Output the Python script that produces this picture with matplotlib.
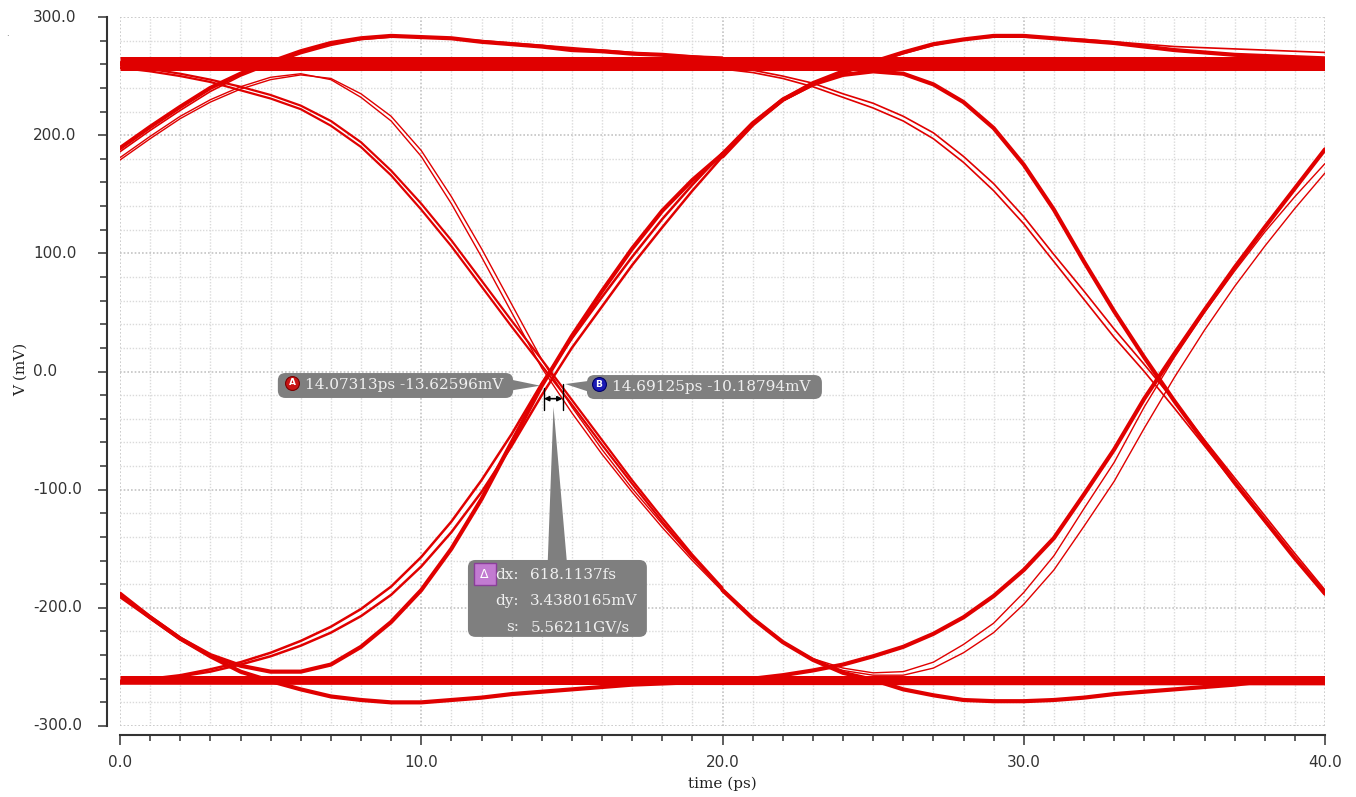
#Diagrama de ojo con marcadores A, B y delta
import numpy as np
import matplotlib
matplotlib.use('Agg')
import matplotlib.pyplot as plt
import matplotlib.transforms as mtransforms
from matplotlib.patches import FancyBboxPatch, Polygon
from matplotlib.ticker import MultipleLocator, FormatStrFormatter

plt.rcParams['axes.unicode_minus'] = False
plt.rcParams['lines.solid_capstyle'] = 'round'

# tiempos de muestreo (ps)
t_a = np.arange(0, 21)
t_b = np.arange(20, 41)

# niveles planos (mV) al inicio y al final de la ventana
t_flat = [0, 40]
hi_flat = [[264.5, 264.5], [260.5, 260], [256.5, 256.5]]
lo_flat = [[-259, -259], [-263, -263.5]]

# primera mitad 0..20 ps (mV)
r_hold_a = [189, 207, 224, 240, 252, 262, 271, 278, 282, 284, 283, 282, 279, 277, 275, 272, 271, 269, 268, 266, 264]
r_hold_a2 = [186, 204, 221, 237, 250, 260, 269, 276, 281, 283, 283, 282, 280, 278, 276, 274, 272, 270, 268, 267, 266]
r_fall_a = [181, 199, 216, 230, 241, 249, 252, 247, 232, 212, 182, 142, 97, 50, 3, -35, -70, -102, -132, -160, -186]
r_fall_a2 = [179, 197, 214, 228, 239, 247, 251, 248, 235, 216, 187, 148, 104, 57, 10, -30, -66, -99, -129, -158, -184]
h_fall_a = [257, 254, 250, 245, 238, 231, 222, 208, 190, 166, 137, 106, 72, 38, 5, -28, -62, -95, -127, -157, -185]
h_fall_a2 = [259, 256, 252, 247, 241, 234, 225, 212, 194, 170, 142, 111, 77, 43, 10, -24, -58, -92, -124, -155, -183]
l_rise_a = [-262, -261, -258, -254, -248, -241, -232, -221, -207, -189, -165, -136, -102, -63, -20, 20, 55, 90, 122, 153, 182]
l_rise_a2 = [-262, -260, -257, -252, -246, -238, -228, -216, -201, -182, -157, -127, -92, -53, -10, 28, 63, 97, 129, 158, 185]
f_rise_a = [-188, -208, -226, -240, -249, -254, -254, -248, -233, -212, -185, -150, -108, -60, -12, 30, 68, 104, 136, 162, 184]
f_hold_a = [-190, -208, -226, -241, -254, -262, -269, -275, -278, -280, -280, -278, -276, -273, -271, -269, -267, -265, -264, -263, -262]

# segunda mitad 20..40 ps (mV)
h_fall_b = [258, 255, 250, 244, 235, 227, 216, 202, 182, 159, 131, 99, 68, 36, 6, -25, -58, -90, -122, -154, -185]
h_fall_b2 = [256, 253, 248, 241, 232, 223, 212, 197, 177, 153, 125, 93, 61, 29, 0, -31, -63, -95, -127, -158, -189]
r_fall_b = [184, 210, 230, 243, 251, 254, 252, 243, 228, 206, 175, 137, 93, 51, 12, -25, -60, -94, -126, -158, -188]
r_hold_b = [182, 209, 230, 244, 254, 262, 270, 277, 281, 284, 284, 282, 280, 278, 275, 272, 270, 268, 267, 266, 265]
r_hold_b2 = [185, 209, 229, 242, 252, 261, 269, 276, 281, 283, 283, 282, 281, 279, 277, 275, 274, 273, 272, 271, 270]
f_hold_b = [-185, -209, -229, -244, -255, -261, -269, -274, -278, -279, -279, -278, -276, -273, -271, -269, -267, -265, -262, -261, -261]
f_rise_b = [-186, -209, -229, -243, -251, -255, -254, -246, -231, -213, -187, -156, -116, -77, -30, 12, 50, 85, 118, 148, 176]
f_rise_b2 = [-184, -208, -229, -244, -253, -257, -257, -251, -238, -221, -197, -168, -131, -93, -48, -5, 35, 72, 106, 138, 168]
l_rise_b = [-262, -260, -257, -253, -248, -241, -233, -222, -208, -190, -168, -141, -104, -66, -23, 15, 52, 88, 122, 155, 188]

# marcadores (ps, mV)
mark_a = (14.07313, -13.62596)
mark_b = (14.69125, -10.18794)
delta_lab = ['dx:', 'dy:', 's:']
delta_val = ['618.1137fs', '3.4380165mV', '5.56211GV/s']

red = '#e00000'
W, H = 1356, 797
fig = plt.figure(figsize=(W / 100, H / 100), dpi=100)
ax = fig.add_axes([120 / W, 1 - 726 / H, 1205 / W, 709 / H])

for v in hi_flat:
    ax.plot(t_flat, v, color=red, lw=3.6, solid_capstyle='butt')
for v in lo_flat:
    ax.plot(t_flat, v, color=red, lw=3.6, solid_capstyle='butt')

thick = 3.0
ax.plot(t_a, r_hold_a, color=red, lw=thick)
ax.plot(t_a, r_hold_a2, color=red, lw=1.2)
ax.plot(t_a, r_fall_a, color=red, lw=1.0)
ax.plot(t_a, r_fall_a2, color=red, lw=1.0)
ax.plot(t_a, h_fall_a, color=red, lw=1.6)
ax.plot(t_a, h_fall_a2, color=red, lw=1.6)
ax.plot(t_a, l_rise_a, color=red, lw=1.8)
ax.plot(t_a, l_rise_a2, color=red, lw=1.8)
ax.plot(t_a, f_rise_a, color=red, lw=thick)
ax.plot(t_a, f_hold_a, color=red, lw=thick)

ax.plot(t_b, h_fall_b, color=red, lw=1.2)
ax.plot(t_b, h_fall_b2, color=red, lw=1.2)
ax.plot(t_b, r_fall_b, color=red, lw=thick)
ax.plot(t_b, r_hold_b, color=red, lw=thick)
ax.plot(t_b, r_hold_b2, color=red, lw=1.2)
ax.plot(t_b, f_hold_b, color=red, lw=thick)
ax.plot(t_b, f_rise_b, color=red, lw=1.0)
ax.plot(t_b, f_rise_b2, color=red, lw=1.0)
ax.plot(t_b, l_rise_b, color=red, lw=thick)

ax.set_xlim(0, 40)
ax.set_ylim(-300, 300)

# ejes
ax.xaxis.set_major_locator(MultipleLocator(10))
ax.xaxis.set_minor_locator(MultipleLocator(1))
ax.yaxis.set_major_locator(MultipleLocator(100))
ax.yaxis.set_minor_locator(MultipleLocator(20))
ax.xaxis.set_major_formatter(FormatStrFormatter('%.1f'))
ax.set_axisbelow(True)
ax.grid(which='minor', color='#dadada', linestyle=(0, (1, 1.2)), lw=1.0)
ax.grid(which='major', color='#c4c4c4', linestyle=(0, (1, 1.2)), lw=1.2)

for s in ['top', 'right']:
    ax.spines[s].set_visible(False)
ax.spines['left'].set_position(('outward', 9.4))
ax.spines['bottom'].set_position(('outward', 6.5))
for s in ['left', 'bottom']:
    ax.spines[s].set_color('#333333')
    ax.spines[s].set_linewidth(1.5)

ax.tick_params(axis='x', which='major', direction='out', length=7.2, width=1.1, pad=7, labelsize=11, colors='#333333')
ax.tick_params(axis='x', which='minor', direction='out', length=4.3, width=1.1, colors='#333333')
ax.tick_params(axis='y', which='major', direction='out', length=6.2, width=1.1, labelleft=False, colors='#333333')
ax.tick_params(axis='y', which='minor', direction='out', length=4.8, width=1.1, colors='#333333')

# etiquetas del eje y alineadas a la izquierda
ytr = mtransforms.blended_transform_factory(fig.transFigure, ax.transData)
for yv in [300, 200, 100, 0, -100, -200, -300]:
    ax.text(33 / W, yv, '%.1f' % yv, transform=ytr, fontsize=11, color='#333333',
            ha='left', va='center', clip_on=False)

ax.set_xlabel('time (ps)', family='DejaVu Serif', fontsize=11, color='#222222')
ax.set_ylabel('V (mV)', family='DejaVu Serif', fontsize=11, color='#222222')
ax.xaxis.set_label_coords(0.5, -0.072)
ax.yaxis.set_label_coords(-0.0763, 0.5035)

# cursores
box_c = '#7f7f7f'
txt_c = '#f0f0f0'
asp = 25.5
ta, va = mark_a
tb, vb = mark_b
ax.plot([ta, ta], [va, -33], color='k', lw=1.0, zorder=6)
ax.plot([tb, tb], [vb, -33], color='k', lw=1.0, zorder=6)
ax.annotate('', xy=(tb, -23), xytext=(ta, -23),
            arrowprops=dict(arrowstyle='<|-|>', color='k', lw=1.2, mutation_scale=7, shrinkA=0, shrinkB=0), zorder=6)

# etiqueta A
ax.add_patch(FancyBboxPatch((5.24, -22.4), 7.81, 21.1, boxstyle='round,pad=0,rounding_size=0.25',
                            mutation_aspect=asp, fc=box_c, ec='none', zorder=5))
ax.add_patch(Polygon([(13.0, -7), (13.0, -16), (13.95, -12)], closed=True, fc=box_c, ec='none', zorder=5))
ax.plot(5.71, -9.7, 'o', ms=10, mfc='#c81414', mec='#7a0000', mew=0.8, zorder=6)
ax.text(5.71, -9.7, 'A', color='white', fontsize=6.5, fontweight='bold', ha='center', va='center', zorder=7)
ax.text(6.14, -11.8, '%.5fps %.5fmV' % (ta, va), family='DejaVu Serif', fontsize=11,
        color=txt_c, ha='left', va='center', zorder=7)

# etiqueta B
ax.add_patch(FancyBboxPatch((15.5, -23.3), 7.8, 20.3, boxstyle='round,pad=0,rounding_size=0.25',
                            mutation_aspect=asp, fc=box_c, ec='none', zorder=5))
ax.add_patch(Polygon([(15.55, -8), (15.55, -17), (14.78, -10.6)], closed=True, fc=box_c, ec='none', zorder=5))
ax.plot(15.9, -10.6, 'o', ms=10, mfc='#1a1ab4', mec='#000066', mew=0.8, zorder=6)
ax.text(15.9, -10.6, 'B', color='white', fontsize=6.5, fontweight='bold', ha='center', va='center', zorder=7)
ax.text(16.33, -13.4, '%.5fps %.5fmV' % (tb, vb), family='DejaVu Serif', fontsize=11,
        color=txt_c, ha='left', va='center', zorder=7)

# etiqueta delta
ax.add_patch(FancyBboxPatch((11.55, -224.6), 5.94, 65.1, boxstyle='round,pad=0,rounding_size=0.25',
                            mutation_aspect=asp, fc=box_c, ec='none', zorder=5))
ax.add_patch(Polygon([(14.2, -160), (14.83, -160), (14.39, -30)], closed=True, fc=box_c, ec='none', zorder=5))
ax.plot(12.1, -171.5, 's', ms=15.5, mfc='#c27bd1', mec='#8a3f99', mew=1.0, zorder=6)
ax.text(12.1, -171.5, 'Δ', color='white', fontsize=9, ha='center', va='center', zorder=7)
for i in range(3):
    yy = [-172, -194.5, -216.5][i]
    ax.text(13.25, yy, delta_lab[i], family='DejaVu Serif', fontsize=11, color=txt_c,
            ha='right', va='center', zorder=7)
    ax.text(13.62, yy, delta_val[i], family='DejaVu Serif', fontsize=11, color=txt_c,
            ha='left', va='center', zorder=7)

fig.text(7 / W, 1 - 33 / H, '.', fontsize=6, color='#555555', ha='center', va='center')

plt.savefig('out.png', dpi=100)
